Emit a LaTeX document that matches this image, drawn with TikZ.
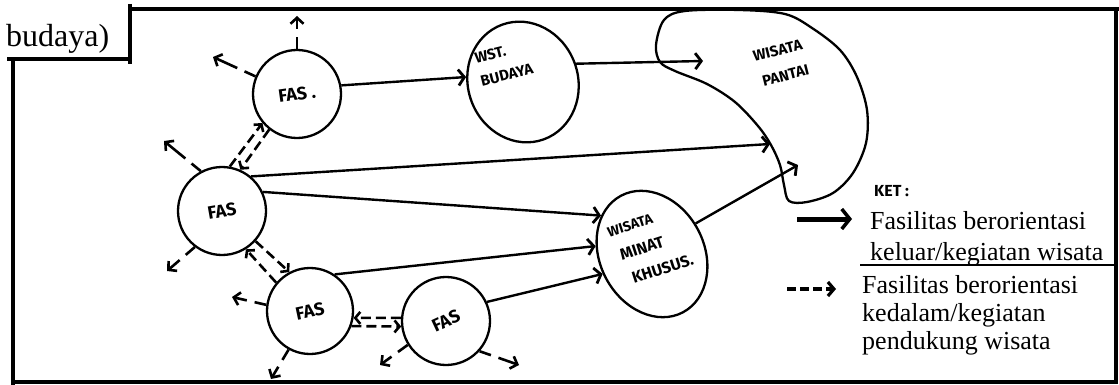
\documentclass[tikz,border=0pt]{standalone}
\usepackage{fontspec}
\setmainfont{Liberation Serif}
\newfontfamily\handfont{Fira Sans}
\usetikzlibrary{arrows.meta,shapes.geometric}

% place a text block at an offset inside a node, turned by an extra angle
% #1 angle, #2 raise, #3 twice the horizontal shift, #4 text
\newcommand{\offsetlabel}[4]{%
  \rotatebox{#1}{\raisebox{#2}[0pt][0pt]{\makebox[0pt]{\hspace*{#3}#4}}}}

\begin{document}
\begin{tikzpicture}[x=1pt,y=-1pt,
  handfont/.style={font=\handfont\bfseries\fontsize{#1}{#1}\selectfont},
  fac/.style={circle, draw, line width=2.3pt, minimum size=88pt, inner sep=0pt, handfont=18},
  dest/.style={ellipse, draw, line width=2.3pt, inner sep=0pt},
  flow/.style={line width=2.4pt, -{Straight Barb[length=6pt,width=16pt,line width=2.8pt]}},
  support/.style={line width=2.6pt, dash pattern=on 10pt off 5pt,
    -{Straight Barb[length=5pt,width=12pt,line width=2.6pt]}},
  outward/.style={line width=2.6pt, dash pattern=on 12pt off 8pt on 80pt,
    -{Straight Barb[length=6pt,width=13pt,line width=2.6pt]}},
  frameline/.style={line width=3.2pt},
  legendtext/.style={font=\fontsize{26}{26}\selectfont, anchor=base west, inner sep=0pt}]

\useasboundingbox (0,0) rectangle (1119,385);

% page frame
\draw[frameline] (130,4) -- (130,64);
\draw[frameline] (7,59) -- (131.6,59);
\draw[frameline] (13,59) -- (13,385);
\draw[frameline] (128.4,9) -- (1119,9);
\draw[frameline] (11.4,382) -- (1117.6,382);
\draw[frameline] (1116,9) -- (1116,382);
\draw[line width=1.3pt] (860,265) -- (1116,265);
\node[font=\fontsize{32}{32}\selectfont, anchor=base west, inner sep=0pt] (caption) at (6,47) {budaya)};

% facilities
\node[fac] (fas1) at (297,94) {\rotatebox{8}{FAS .}};
\node[fac] (fas2) at (222,211) {\rotatebox{10}{FAS}};
\node[fac, minimum size=86pt] (fas3) at (310,311) {\rotatebox{12}{FAS}};
\node[fac] (fas4) at (446,321) {\rotatebox{25}{FAS}};

% destinations
\node[dest, minimum width=110pt, minimum height=122pt, rotate=20,
  font=\handfont\bfseries\fontsize{15}{25}\selectfont]
  (wst) at (523,82)
  {\offsetlabel{-6}{19pt}{-28pt}{\begin{tabular}{@{}l@{}}WST.\\[-1pt]BUDAYA\end{tabular}}};
\node[dest, minimum width=104pt, minimum height=132pt, rotate=28,
  font=\handfont\bfseries\fontsize{16}{26}\selectfont]
  (wmk) at (652,254)
  {\offsetlabel{-10}{4pt}{2pt}{\begin{tabular}{@{}l@{}}{\fontsize{14}{14}\selectfont WISATA}\\
     \hspace*{5pt}MINAT\\ \hspace*{9pt}KHUSUS.\end{tabular}}};

% beach area
\draw[line width=2.3pt] plot[smooth cycle, tension=0.55] coordinates {
  (656,45) (664,20) (685,11) (740,10) (785,14) (812,28) (840,50) (857,77)
  (867,110) (866,143) (853,173) (833,193) (807,202) (789,201) (784,185)
  (780,165) (771,145) (758,126) (735,102) (707,84) (675,71) (660,62)};
\node[rotate=14, align=left, inner sep=0pt,
  font=\handfont\bfseries\fontsize{15}{26}\selectfont] (pantai) at (781,63) {WISATA\\\hspace*{3pt}PANTAI};
\coordinate (pA) at (703,61);
\coordinate (pB) at (770,144);
\coordinate (pC) at (798,165);

% outgoing activity flows
\draw[flow] (fas1.11) -- (wst.155);
\draw[flow] (wst.-1) -- (pA);
\draw[flow] (fas2.50) -- (pB);
\draw[flow] (fas2.25) -- (wmk.115);
\draw[flow] (fas3.56) -- (wmk.144);
\draw[flow] (fas4.25) -- (wmk.174);
\draw[flow] (wmk.7) -- (pC);

% supporting (inward) flows
\draw[support] (fas2.80) -- (fas1.220);
\draw[support] (fas1.232) -- (fas2.66);
\draw[support] (fas3.140) -- (fas2.-58);
\draw[support] (fas2.-42) -- (fas3.118);
\draw[support] (fas4.176) -- (fas3.-9);
\draw[support] (fas3.-20) -- (fas4.187);

% short outward arrows
\coordinate (o1) at (297,16);
\coordinate (o2) at (213,57);
\coordinate (o3) at (164,141);
\coordinate (o4) at (167,271);
\coordinate (o5) at (232,297);
\coordinate (o6) at (271,379);
\coordinate (o7) at (380,365);
\coordinate (o8) at (519,365);
\draw[outward] (fas1.90) -- (o1);
\draw[outward] (fas1.157) -- (o2);
\draw[outward] (fas2.118) -- (o3);
\draw[outward] (fas2.233) -- (o4);
\draw[outward] (fas3.172) -- (o5);
\draw[outward] (fas3.241) -- (o6);
\draw[outward] (fas4.212) -- (o7);
\draw[outward] (fas4.318) -- (o8);

% legend
\node[handfont=16, anchor=west, inner sep=0pt] (ket) at (874,191) {KET :};
\coordinate (l1a) at (797,219);
\coordinate (l1b) at (852,219);
\draw[line width=5pt, -{Straight Barb[length=8pt,width=20pt,line width=3.5pt]}] (l1a) -- (l1b);
\node[legendtext] (k1a) at (870,229) {Fasilitas berorientasi};
\node[legendtext] (k1b) at (870,260) {keluar/kegiatan wisata};
\coordinate (l2a) at (787,289);
\coordinate (l2b) at (836,289);
\draw[line width=4pt, dash pattern=on 9pt off 4pt, -{Straight Barb[length=6pt,width=14pt,line width=3.2pt]}] (l2a) -- (l2b);
\node[legendtext] (k2a) at (862,293) {Fasilitas berorientasi};
\node[legendtext] (k2b) at (862,321) {kedalam/kegiatan};
\node[legendtext] (k2c) at (862,349) {pendukung wisata};
\end{tikzpicture}
\end{document}
